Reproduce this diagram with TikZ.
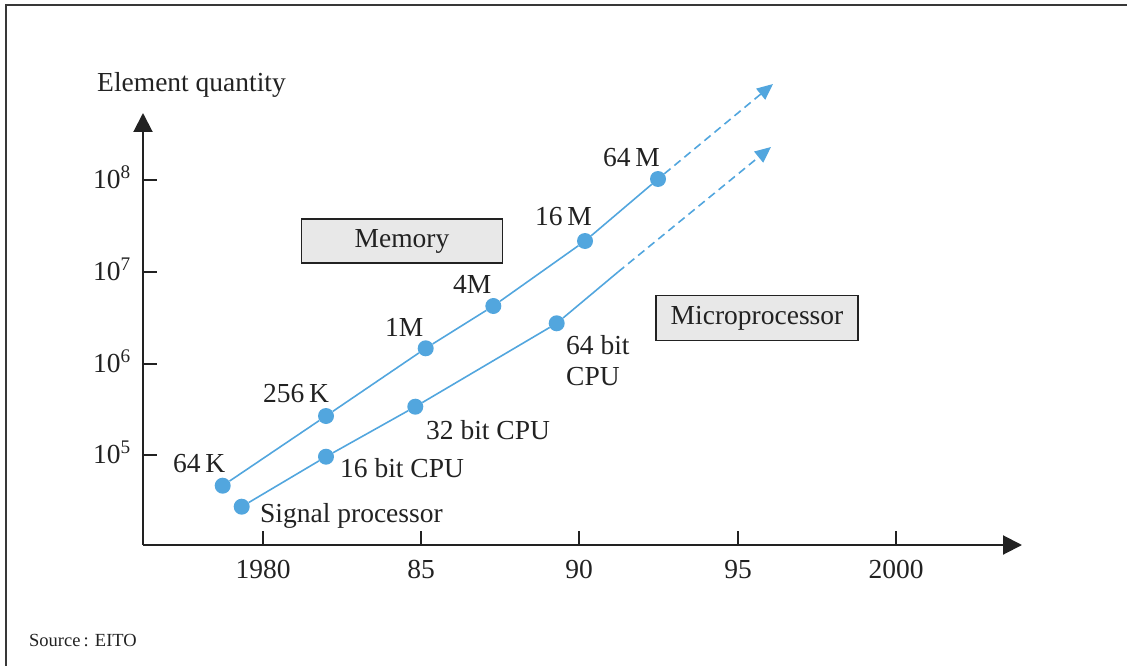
\documentclass[tikz,border=0pt]{standalone}
\usepackage{fontspec}
\setmainfont{Liberation Serif}
\usetikzlibrary{arrows.meta}
\definecolor{dotblue}{RGB}{82,166,222}
\definecolor{ink}{RGB}{34,34,34}
\definecolor{boxfill}{RGB}{232,232,232}
\newcommand{\lblfont}{\fontsize{27.5}{32}\selectfont}
\newcommand{\srcfont}{\fontsize{18.5}{22}\selectfont}
\begin{document}
\begin{tikzpicture}[x=1pt,y=-1pt,
  every node/.style={text=ink, inner sep=0pt},
  lbl/.style={font=\lblfont},
  serie/.style={draw=dotblue, line width=1.6pt},
  future/.style={serie, dash pattern=on 8pt off 5pt, -{Triangle[length=16pt,width=14pt]}},
  dot/.style={circle, fill=dotblue, minimum size=16pt},
  legendbox/.style={draw=ink, line width=1.5pt, fill=boxfill, font=\lblfont},
  axis/.style={draw=ink, line width=2pt, -{Triangle[length=19pt,width=19pt]}},
  tickmark/.style={draw=ink, line width=1.5pt},
  frameline/.style={draw=ink!90, line width=2pt}]
\useasboundingbox (0,0) rectangle (1127,666);

% frame
\coordinate (fTL) at (6,5);
\coordinate (fTR) at (1127,5);
\coordinate (fBL) at (6,666);
\draw[frameline] (fTR) -- (fTL) -- (fBL);

% axes
\coordinate (origin) at (143,545);
\coordinate (yTip) at (143,113);
\coordinate (xTip) at (1022,545);
\draw[axis] (origin) -- (yTip);
\draw[axis] (origin) -- (xTip);
\node[lbl, anchor=base west] (ylabel) at (97,92) {Element quantity};

% vertical ticks (powers of ten)
\foreach \e/\y in {8/180, 7/272, 6/364, 5/455}{
  \coordinate (yt\e) at (143,\y);
  \coordinate (yt\e e) at (157,\y);
  \draw[tickmark] (yt\e) -- (yt\e e);
  \node[lbl, anchor=base east] (yl\e) at (131,\y+8) {10\textsuperscript{\e}};
}

% horizontal ticks (years)
\foreach \n/\x/\t in {a/263/1980, b/421/85, c/579/90, d/738/95, e/896/2000}{
  \coordinate (xt\n) at (\x,545);
  \coordinate (xt\n e) at (\x,531);
  \draw[tickmark] (xt\n) -- (xt\n e);
  \node[lbl, anchor=base] (xl\n) at (\x,578) {\t};
}

% legend boxes
\node[legendbox, minimum width=201pt, minimum height=44pt] (memBox) at (402,241) {Memory};
\node[legendbox, minimum width=202pt, minimum height=45pt] (mpBox) at (757,318) {Microprocessor};

% memory series
\node[dot] (m64k)  at (222.7,485.7) {};
\node[dot] (m256k) at (326,416) {};
\node[dot] (m1m)   at (425.7,348.3) {};
\node[dot] (m4m)   at (493.3,306) {};
\node[dot] (m16m)  at (585,241) {};
\node[dot] (m64m)  at (658,179) {};
\coordinate (mEnd) at (773,84);
\draw[serie] (m64k) -- (m256k) -- (m1m) -- (m4m) -- (m16m) -- (m64m);
\draw[future] (m64m) -- (mEnd);

\node[lbl, anchor=base west] (t64k)  at (173,472) {64\,K};
\node[lbl, anchor=base west] (t256k) at (263,402) {256\,K};
\node[lbl, anchor=base west] (t1m)   at (385,336) {1M};
\node[lbl, anchor=base west] (t4m)   at (453,293) {4M};
\node[lbl, anchor=base west] (t16m)  at (535,225) {16\,M};
\node[lbl, anchor=base west] (t64m)  at (603,166) {64\,M};

% microprocessor series
\node[dot] (psig) at (241.7,506.7) {};
\node[dot] (p16)  at (326,456.7) {};
\node[dot] (p32)  at (415.3,406.7) {};
\node[dot] (p64)  at (556.7,323.3) {};
\coordinate (pMid) at (618,272);
\coordinate (pEnd) at (771,147);
\draw[serie] (psig) -- (p16) -- (p32) -- (p64) -- (pMid);
\draw[future] (pMid) -- (pEnd);

\node[lbl, anchor=base west] (tsig) at (260,522) {Signal processor};
\node[lbl, anchor=base west] (t16)  at (340,477) {16 bit CPU};
\node[lbl, anchor=base west] (t32)  at (426,439) {32 bit CPU};
\node[lbl, anchor=base west] (t64a) at (566,354) {64 bit};
\node[lbl, anchor=base west] (t64b) at (566,385) {CPU};

% source note
\node[font=\srcfont, anchor=base west] (src) at (29,646) {Source\,: EITO};
\end{tikzpicture}
\end{document}
